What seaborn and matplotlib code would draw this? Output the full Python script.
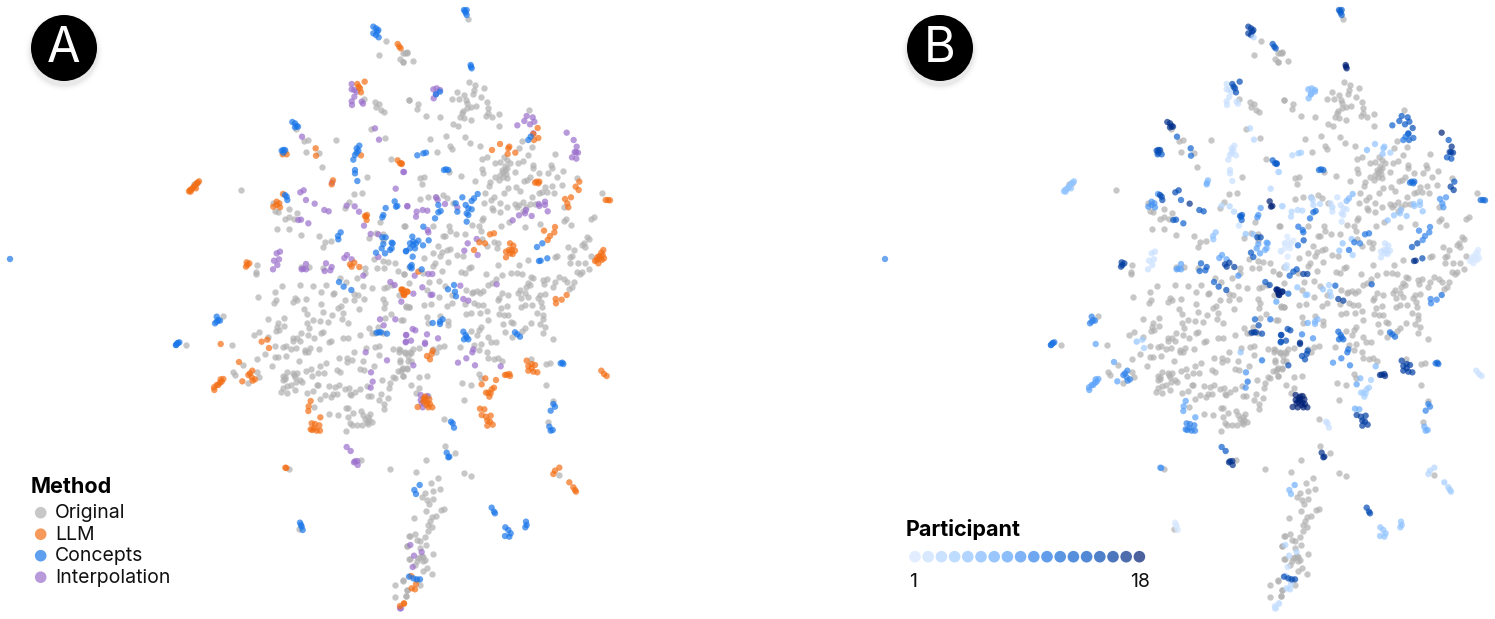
import matplotlib
matplotlib.use("Agg")
import matplotlib.pyplot as plt
from matplotlib.patches import Circle
import pandas as pd
import seaborn as sns

# points, one list per quadrant of the map
# (x, y) for the original points, (x, y, participant) for the generated ones
# units are a third of a pixel, measured from the quadrant corner
ORIGINAL_NW = [(647,122),(627,164),(700,160),(712,157),(689,178),(698,185),(716,300),(583,296),(616,306),(628,312),(617,321),(633,330),(641,336),(604,388),(646,414),(497,420),(403,423),(413,421),(378,388),(408,456),(446,460),(455,500),(662,478),(592,532),(212,569),(553,581),(576,578),(537,605),(526,623),(310,608),(316,634),(323,636),(358,627),(380,640),(356,650),(345,657),(372,656),(320,686),(358,686),(394,706),(446,709),(466,727),(459,740),(484,724),(629,665),(703,678),(617,699),(598,715),(640,703),(640,720),(611,778),(640,782),(655,787),(674,790),(622,804),(641,805),(684,813),(703,823),(716,800),(586,804),(586,818),(261,796),(259,815),(259,823),(392,802),(416,802),(458,804),(510,834),(528,845),(562,835),(580,857),(606,863),(642,863),(651,860),(666,855),(335,857),(389,855),(428,859),(469,856),(315,877),(263,892),(317,900),(313,910),(454,877),(488,881),(492,880),(552,882),(564,886),(553,899),(583,897),(526,901),(374,893),(380,900),(369,907),(407,897),(452,913),(512,918),(505,925),(638,896),(646,910),(708,920),(716,922),(568,928),(643,925),(687,884),(72,552),(80,548),(345,452)]
ORIGINAL_NE = [(204,56),(15,160),(22,160),(8,185),(40,184),(206,245),(226,255),(253,265),(222,270),(220,282),(171,276),(155,296),(178,296),(193,285),(197,300),(200,308),(242,292),(262,305),(27,299),(55,312),(52,328),(78,349),(119,351),(229,319),(213,322),(201,323),(188,332),(185,340),(180,352),(192,353),(212,361),(265,325),(265,338),(259,349),(275,352),(298,342),(158,373),(175,379),(298,378),(388,329),(89,416),(137,407),(195,411),(209,430),(151,438),(156,447),(240,438),(112,456),(262,472),(245,478),(312,470),(320,480),(300,485),(285,490),(330,490),(316,498),(245,508),(250,520),(305,510),(318,522),(300,525),(285,530),(270,545),(268,558),(296,540),(225,542),(184,529),(59,534),(72,532),(67,551),(147,515),(355,490),(345,515),(370,483),(400,495),(398,503),(380,540),(372,542),(391,532),(418,520),(443,519),(452,495),(455,505),(466,463),(383,466),(358,445),(395,440),(365,423),(490,512),(472,532),(530,534),(455,558),(487,554),(434,562),(442,575),(462,578),(418,580),(427,577),(347,561),(325,565),(360,572),(396,592),(313,578),(283,590),(273,600),(255,580),(252,608),(278,630),(300,610),(320,622),(345,612),(358,616),(370,605),(378,620),(390,612),(368,632),(350,622),(404,612),(300,635),(277,625),(607,580),(493,622),(60,598),(84,592),(107,590),(130,585),(142,595),(160,610),(574,658),(583,652),(492,662),(497,658),(512,676),(421,672),(327,665),(374,680),(302,678),(250,655),(245,660),(14,677),(98,677),(148,677),(134,707),(130,708),(150,692),(195,703),(168,703),(215,675),(236,678),(244,694),(247,718),(295,728),(290,745),(262,738),(282,725),(150,748),(142,750),(125,755),(120,768),(98,760),(113,737),(72,775),(105,790),(100,798),(145,785),(170,765),(190,768),(213,800),(207,805),(127,814),(257,823),(184,817),(196,818),(293,796),(357,796),(383,779),(465,770),(472,768),(505,742),(523,750),(553,729),(562,710),(568,716),(545,735),(555,742),(572,768),(510,770),(515,768),(535,790),(555,790),(510,790),(530,815),(545,815),(568,808),(540,822),(492,838),(478,832),(500,845),(522,845),(515,860),(508,868),(460,860),(465,845),(430,840),(440,838),(433,852),(400,835),(392,830),(332,818),(350,818),(365,822),(305,825),(288,838),(275,848),(263,855),(383,850),(378,860),(390,855),(360,870),(355,880),(375,878),(385,890),(362,895),(420,885),(415,895),(422,905),(435,882),(325,885),(305,880),(298,895),(295,900),(250,872),(230,872),(240,880),(220,875),(155,885),(215,880),(118,890),(80,870),(27,850),(68,820),(12,822),(86,845),(117,843),(136,857),(197,870),(195,912),(223,910),(235,915),(250,915),(155,910),(140,918),(93,912),(73,916),(28,920),(17,918),(395,915),(375,915),(362,920),(302,925),(320,918),(425,920),(308,515),(315,510),(322,505),(310,530),(320,535)]
ORIGINAL_SW = [(158,48),(293,56),(342,53),(325,70),(322,80),(342,77),(317,93),(326,90),(252,104),(268,97),(295,112),(47,135),(187,134),(315,137),(338,140),(348,138),(362,147),(379,145),(370,113),(382,113),(394,100),(414,104),(390,122),(370,122),(433,115),(458,95),(453,100),(484,124),(478,127),(520,115),(534,113),(411,70),(417,84),(430,60),(450,62),(473,65),(487,44),(515,57),(535,70),(520,40),(460,37),(403,28),(412,42),(569,104),(598,85),(606,98),(615,98),(645,55),(640,100),(623,80),(698,60),(664,43),(448,146),(419,145),(404,157),(415,157),(405,150),(316,171),(325,171),(349,167),(261,177),(285,161),(386,184),(305,199),(219,195),(190,217),(196,225),(262,215),(266,230),(233,250),(350,217),(339,228),(338,240),(346,238),(370,218),(380,220),(375,230),(407,214),(424,208),(426,228),(445,220),(461,218),(449,197),(468,190),(502,210),(510,215),(508,175),(531,175),(532,186),(545,181),(551,155),(580,182),(571,208),(582,210),(612,197),(587,145),(614,140),(627,138),(627,164),(670,147),(686,155),(686,147),(691,180),(705,155),(685,213),(697,208),(713,183),(712,208),(722,160),(676,235),(637,241),(660,250),(656,263),(699,228),(668,230),(590,257),(571,268),(556,275),(541,282),(544,285),(538,263),(525,268),(508,255),(496,262),(488,282),(476,258),(443,255),(429,272),(411,278),(397,245),(389,240),(378,245),(362,255),(352,258),(340,265),(334,277),(352,278),(375,270),(466,286),(482,292),(449,296),(500,282),(595,288),(604,287),(633,283),(653,295),(626,299),(643,312),(643,327),(527,325),(533,325),(477,343),(505,344),(533,351),(550,338),(574,334),(600,342),(580,345),(595,352),(590,365),(605,366),(577,375),(560,375),(540,370),(545,376),(595,372),(527,394),(431,321),(574,480),(659,507),(358,508),(387,688),(718,708),(710,738),(718,778),(676,856),(700,842),(710,870),(675,892),(708,889),(440,255),(585,358),(598,360),(372,224),(345,232)]
ORIGINAL_SE = [(4,60),(82,52),(83,70),(119,47),(145,62),(143,75),(298,42),(323,44),(313,45),(332,65),(338,70),(392,70),(410,40),(428,45),(430,58),(420,72),(435,80),(428,100),(375,85),(365,92),(316,97),(335,110),(263,110),(243,80),(260,32),(265,60),(240,40),(212,38),(197,43),(310,72),(236,90),(232,105),(214,93),(273,127),(288,127),(243,133),(236,150),(222,135),(179,140),(133,139),(116,142),(108,155),(100,148),(57,143),(38,147),(30,155),(15,160),(25,168),(0,150),(32,182),(0,187),(10,203),(20,205),(2,212),(10,228),(33,254),(57,232),(82,228),(57,265),(48,280),(83,288),(260,157),(265,175),(283,178),(293,175),(307,183),(237,222),(243,235),(185,249),(212,255),(191,299),(132,356),(437,192),(449,190),(394,176),(438,254),(460,118),(460,303),(443,367),(136,438),(165,460),(77,481),(47,516),(193,518),(214,527),(478,524),(94,548),(115,534),(76,578),(100,573),(121,567),(67,590),(80,600),(99,596),(88,612),(77,632),(122,630),(133,628),(43,654),(107,648),(95,652),(90,662),(84,675),(97,680),(84,693),(75,710),(44,701),(31,708),(60,722),(50,720),(78,735),(20,738),(100,761),(30,778),(65,768),(55,775),(75,780),(60,745),(82,803),(70,812),(96,823),(45,795),(50,840),(10,840),(60,855),(20,870),(17,888),(60,770),(70,770),(52,782),(68,782)]

LLM_NW = [(683,132,14),(688,140,14),(692,145,14),(562,252,15),(566,260,15),(584,245,15),(573,277,15),(570,265,15),(338,463,13),(350,463,13),(437,445,13),(438,467,12),(573,466,2),(683,481,13),(690,490,13),(695,492,13),(489,541,6),(485,553,7),(57,574,5),(65,568,5),(72,560,5),(80,550,5),(87,544,5),(62,575,5),(78,565,5),(60,570,5),(68,564,5),(75,556,5),(83,548,5),(339,582,9),(320,605,9),(328,610,9),(310,620,9),(330,622,9),(320,615,9),(585,648,13),(590,660,13),(588,650,13),(591,645,13),(230,787,16),(228,800,16),(238,790,16),(232,795,16),(553,788,16),(540,793,16),(545,800,16),(568,801,16),(700,870,17),(712,875,17),(695,868,17),(703,885,17)]
LLM_NE = [(413,384,15),(400,402,13),(415,414,13),(402,420,13),(276,450,6),(300,432,5),(328,440,5),(323,462,5),(325,445,5),(346,458,4),(5,490,14),(410,545,12),(418,545,12),(405,548,12),(415,550,12),(527,560,16),(536,570,16),(538,545,14),(624,600,12),(617,600,12),(630,601,12),(495,597,9),(513,592,9),(502,610,9),(505,622,9),(432,692,10),(465,681,10),(463,697,10),(450,708,10),(443,720,10),(590,780,1),(600,775,1),(608,765,1),(610,750,1),(595,790,1),(585,783,1),(605,780,1),(612,775,1),(598,768,1),(604,758,1),(592,772,1),(238,727,11),(255,730,10),(222,750,11),(270,703,11),(282,700,11),(330,730,2),(340,737,2),(327,750,2),(318,755,2),(335,750,2),(345,752,2),(338,762,2),(318,772,2),(330,760,2),(55,815,14),(5,870,18),(22,875,18),(12,885,18),(10,880,18),(500,885,12),(485,899,10),(467,897,10),(468,910,10)]
LLM_SW = [(152,132,8),(275,125,5),(292,119,4),(297,144,4),(207,186,8),(247,212,10),(235,225,10),(245,232,10),(255,238,10),(248,242,10),(240,220,10),(217,244,8),(160,237,8),(152,238,8),(150,248,8),(140,255,8),(132,262,8),(133,270,8),(145,255,8),(155,245,8),(422,303,8),(416,319,8),(415,333,8),(451,352,8),(425,370,10),(435,372,10),(448,376,10),(427,390,10),(440,392,10),(450,392,10),(433,385,10),(422,388,10),(349,504,9),(346,503,9),(702,911,2),(690,918,2)]
LLM_SE = [(81,168,15),(90,178,15),(95,162,15),(98,152,15),(245,253,8),(256,235,6),(288,240,4),(282,263,4),(275,268,4),(265,278,4),(258,278,4),(268,290,4),(272,280,4),(320,224,17),(328,222,17),(315,225,17),(330,228,17),(380,182,16),(395,192,16),(405,195,16),(385,198,16),(395,205,16),(385,212,16),(400,215,16),(412,217,16),(604,212,2),(612,222,2),(620,228,2),(75,290,18),(88,298,18),(70,305,18),(80,315,18),(85,322,18),(97,322,18),(53,321,18),(75,300,18),(82,308,18),(72,295,18),(90,312,18),(240,326,7),(253,328,7),(245,345,16),(258,350,16),(272,347,16),(262,362,16),(270,365,16),(278,374,16),(262,377,16),(478,503,3),(465,512,3),(460,522,3),(508,547,4),(520,562,4),(528,575,4),(525,570,4),(33,828,3),(48,852,3),(35,865,3),(45,868,3),(12,910,2)]

CONCEPTS_NW = [(610,80,16),(618,85,16),(622,95,16),(610,100,16),(618,105,16),(626,112,3),(625,90,16),(367,366,17),(375,370,17),(380,378,17),(375,382,17),(384,380,17),(340,450,15),(335,452,15),(345,450,15),(340,458,15),(568,437,2),(560,445,2),(565,452,2),(555,465,2),(560,458,2),(550,479,2),(555,510,2),(555,520,2),(562,543,2),(345,585,15),(350,590,15),(352,600,15),(674,604,18),(678,620,18),(682,618,18),(647,624,8),(640,645,9),(637,652,9),(512,697,5),(504,708,5),(505,718,5),(637,712,15),(647,712,15),(665,728,8),(668,730,8),(640,732,8),(635,745,8),(645,760,8),(665,745,7),(660,750,7),(618,758,14),(708,754,2),(720,730,2),(507,846,13),(521,860,14),(544,870,15),(721,800,2)]
CONCEPTS_NE = [(192,30,13),(200,30,13),(197,38,13),(200,45,13),(195,33,13),(212,195,18),(215,205,18),(213,200,18),(120,275,6),(108,283,6),(385,420,11),(392,410,11),(52,466,3),(70,460,4),(78,458,4),(138,508,12),(145,510,12),(132,510,12),(411,741,14),(427,730,15),(417,783,17),(422,782,17),(442,775,15),(70,680,11),(233,582,6),(222,595,6),(215,603,6),(187,592,2),(167,610,2),(197,615,2),(205,625,2),(215,628,2),(200,640,2),(205,645,2),(200,665,2),(115,615,3),(122,633,12),(115,637,12),(105,655,11),(172,635,2),(37,710,1),(55,722,1),(40,735,1),(30,745,1),(45,745,1),(18,753,1),(38,770,1),(40,725,1),(48,730,1),(86,721,14),(69,736,12),(35,795,2),(35,805,2),(65,808,14),(144,868,5),(162,855,4),(165,875,4),(168,889,4)]
CONCEPTS_SW = [(140,50,10),(145,60,10),(135,70,10),(150,62,10),(140,65,10),(22,130,11),(18,135,11),(28,127,11),(627,97,16),(620,98,16),(633,97,16),(651,101,15),(390,668,1),(395,680,1),(398,690,1),(393,675,1)]
CONCEPTS_SE = [(98,69,7),(120,65,6),(128,58,6),(120,72,6),(190,95,12),(197,105,12),(205,118,12),(192,118,12),(200,112,12),(487,188,12),(482,190,12),(490,192,12),(153,365,2),(158,370,2),(162,383,2),(460,312,10),(465,320,10),(452,332,10),(448,380,7),(452,392,7),(458,390,7),(140,458,17),(145,472,17),(148,470,17),(59,555,7),(43,570,6),(48,582,6),(275,623,15),(285,640,15),(282,635,15),(316,682,5),(325,690,5),(332,700,5),(315,708,5),(328,710,5),(378,665,5),(380,675,5),(376,682,5),(27,830,15),(40,835,15),(50,838,15),(60,838,15),(345,97,12),(352,103,12),(360,110,12)]

INTERPOLATION_NW = [(545,252,2),(545,268,2),(553,270,2),(560,275,2),(553,290,2),(545,304,2),(546,315,2),(575,305,2),(579,311,2),(396,410,13),(615,385,3),(627,419,3),(702,516,3),(486,548,6),(677,566,3),(391,577,15),(401,571,15),(408,600,13),(434,611,17),(463,630,14),(476,634,14),(530,617,3),(554,619,3),(567,635,3),(582,677,2),(712,619,3),(385,660,14),(393,659,14),(415,670,13),(602,702,5),(625,703,5),(625,771,14),(320,760,2),(330,755,2),(312,782,2),(327,778,2),(322,795,2),(309,808,2),(408,792,8),(400,806,8),(408,808,8),(395,808,8),(468,790,13),(485,801,14),(464,813,13),(481,811,13),(523,774,8),(531,765,8),(545,778,8),(580,827,9),(661,846,14),(674,855,15),(694,905,8)]
INTERPOLATION_NE = [(100,268,6),(110,265,6),(120,270,6),(108,282,6),(101,295,6),(352,376,13),(380,348,14),(398,352,14),(373,363,14),(390,373,14),(403,365,14),(400,400,13),(500,398,18),(521,420,14),(530,440,17),(528,457,16),(534,458,16),(524,456,16),(516,472,14),(529,476,14),(10,516,3),(416,612,5),(418,618,5),(435,605,5),(435,615,5),(443,634,5),(378,630,5),(375,640,5),(357,646,5),(395,648,5),(338,661,5),(230,717,5),(203,730,5),(193,752,5),(233,765,4),(85,697,11),(83,690,11),(22,618,3),(50,635,3),(68,630,3),(48,650,3),(82,632,3),(108,592,3),(113,600,3),(135,612,3),(172,622,3),(44,827,13),(85,822,16),(97,822,16),(67,862,5),(92,885,5),(97,884,5),(40,881,12),(181,857,13),(190,897,16),(205,902,16),(290,853,14)]
INTERPOLATION_SW = [(630,58,13),(641,76,15),(676,58,11),(587,157,5),(651,181,11),(603,217,9),(608,245,11),(602,263,9),(709,105,16),(708,125,16),(530,441,13),(542,453,14),(555,484,17),(562,483,17),(552,487,17),(563,495,17),(690,925,2)]
INTERPOLATION_SE = [(38,87,15),(46,91,15),(18,105,15),(33,122,15),(17,127,14),(81,103,10),(75,128,17),(75,132,17),(114,115,9),(40,196,15),(220,148,11),(217,157,11),(199,175,10),(174,188,9),(225,196,10),(302,199,6),(62,285,18),(62,300,18),(68,322,18),(65,310,18),(82,288,18),(31,735,3),(42,767,3),(65,756,3),(38,801,2),(3,925,2)]

METHODS = ["Original", "LLM", "Concepts", "Interpolation"]
METHOD_COLORS = ["#b0b0b0", "#f36e14", "#1a76e9", "#9b70cd"]
PARTICIPANTS = list(range(1, 19))
PANEL_LABELS = ["A", "B"]

# quadrant corners in picture pixels
CORNERS = {"NW": (170, 0), "NE": (400, 0), "SW": (170, 300), "SE": (400, 300)}
W, H = 1495, 619
PANEL_B_X = 875
DOT = 21
ALPHA = 0.7


def make_frame(points, corner, method):
    rows = []
    x0, y0 = CORNERS[corner]
    for p in points:
        rows.append({
            "x": x0 + p[0] / 3,
            "y": y0 + p[1] / 3,
            "method": method,
            "participant": p[2] if len(p) > 2 else 0,
        })
    return pd.DataFrame(rows)


def add_badge(ax, x, y, label):
    # soft shadow under the badge
    for r, a in [(39, 0.012), (37, 0.018), (35.5, 0.025), (34.5, 0.03)]:
        ax.add_patch(Circle((x, y + 4), r, color="black", alpha=a, lw=0, zorder=5))
    ax.add_patch(Circle((x, y), 33, color="black", lw=0, zorder=6))
    ax.text(x, y + 1.5, label, color="white", fontsize=35, ha="center", va="center", zorder=7)


original = pd.concat([
    make_frame(ORIGINAL_NW, "NW", "Original"),
    make_frame(ORIGINAL_NE, "NE", "Original"),
    make_frame(ORIGINAL_SW, "SW", "Original"),
    make_frame(ORIGINAL_SE, "SE", "Original"),
])
generated = pd.concat([
    make_frame(INTERPOLATION_NW, "NW", "Interpolation"),
    make_frame(INTERPOLATION_NE, "NE", "Interpolation"),
    make_frame(INTERPOLATION_SW, "SW", "Interpolation"),
    make_frame(INTERPOLATION_SE, "SE", "Interpolation"),
    make_frame(LLM_NW, "NW", "LLM"),
    make_frame(LLM_NE, "NE", "LLM"),
    make_frame(LLM_SW, "SW", "LLM"),
    make_frame(LLM_SE, "SE", "LLM"),
    make_frame(CONCEPTS_NW, "NW", "Concepts"),
    make_frame(CONCEPTS_NE, "NE", "Concepts"),
    make_frame(CONCEPTS_SW, "SW", "Concepts"),
    make_frame(CONCEPTS_SE, "SE", "Concepts"),
    # the two lone blue points outside the quadrants
    pd.DataFrame({"x": [10], "y": [259], "method": ["Concepts"], "participant": [10]}),
    pd.DataFrame({"x": [178, 176], "y": [343, 345], "method": ["Concepts"] * 2, "participant": [11, 11]}),
])

sns.set_theme(style="white")
plt.rcParams["font.family"] = ["Inter", "DejaVu Sans"]

method_palette = dict(zip(METHODS, METHOD_COLORS))
participant_colors = sns.blend_palette(
    ["#d7e8ff", "#9ccaff", "#5fa6fd", "#1a71e0", "#0452bf", "#002076"], n_colors=len(PARTICIPANTS)
)
participant_palette = dict(zip(PARTICIPANTS, participant_colors))

fig = plt.figure(figsize=(W / 100, H / 100), dpi=100, facecolor="white")
ax_a = fig.add_axes([0, 0, PANEL_B_X / W, 1])
ax_b = fig.add_axes([PANEL_B_X / W, 0, (W - PANEL_B_X) / W, 1])
ax_a.set_xlim(0, PANEL_B_X)
ax_b.set_xlim(0, W - PANEL_B_X)
for ax in (ax_a, ax_b):
    ax.set_ylim(H, 0)
    ax.axis("off")

# Panel A: coloured by method
sns.scatterplot(data=original, x="x", y="y", color=METHOD_COLORS[0], s=DOT, alpha=ALPHA,
                linewidth=0, legend=False, ax=ax_a)
sns.scatterplot(data=generated, x="x", y="y", hue="method", palette=method_palette, s=DOT, alpha=ALPHA,
                linewidth=0, legend=False, ax=ax_a)

# Panel B: same map coloured by participant
sns.scatterplot(data=original, x="x", y="y", color=METHOD_COLORS[0], s=DOT, alpha=ALPHA,
                linewidth=0, legend=False, ax=ax_b)
sns.scatterplot(data=generated, x="x", y="y", hue="participant", palette=participant_palette, s=DOT, alpha=ALPHA,
                linewidth=0, legend=False, ax=ax_b)

# Method legend
legend_df = pd.DataFrame({"method": METHODS, "x": 40.7, "y": [512.7, 534.2, 555.7, 577.2]})
sns.scatterplot(data=legend_df, x="x", y="y", hue="method", palette=method_palette, s=70, alpha=ALPHA,
                linewidth=0, legend=False, ax=ax_a)
ax_a.text(31, 487, "Method", fontsize=15.5, fontweight="bold", color="black", va="center")
for _, row in legend_df.iterrows():
    ax_a.text(55, row["y"] + 0.5, row["method"], fontsize=14, color="#111111", va="center")

# Participant legend
strip_df = pd.DataFrame({"participant": PARTICIPANTS})
strip_df["x"] = 40 + (strip_df["participant"] - 1) * 13.2
strip_df["y"] = 556.7
sns.scatterplot(data=strip_df, x="x", y="y", hue="participant", palette=participant_palette, s=70, alpha=ALPHA,
                linewidth=0, legend=False, ax=ax_b)
ax_b.text(31, 530, "Participant", fontsize=15.5, fontweight="bold", color="black", va="center")
ax_b.text(34, 582, "1", fontsize=14, color="#111111", va="center")
ax_b.text(275, 582, "18", fontsize=14, color="#111111", va="center", ha="right")

add_badge(ax_a, 64, 48, PANEL_LABELS[0])
add_badge(ax_b, 65, 48, PANEL_LABELS[1])

fig.savefig("out.png", dpi=100, facecolor="white")
